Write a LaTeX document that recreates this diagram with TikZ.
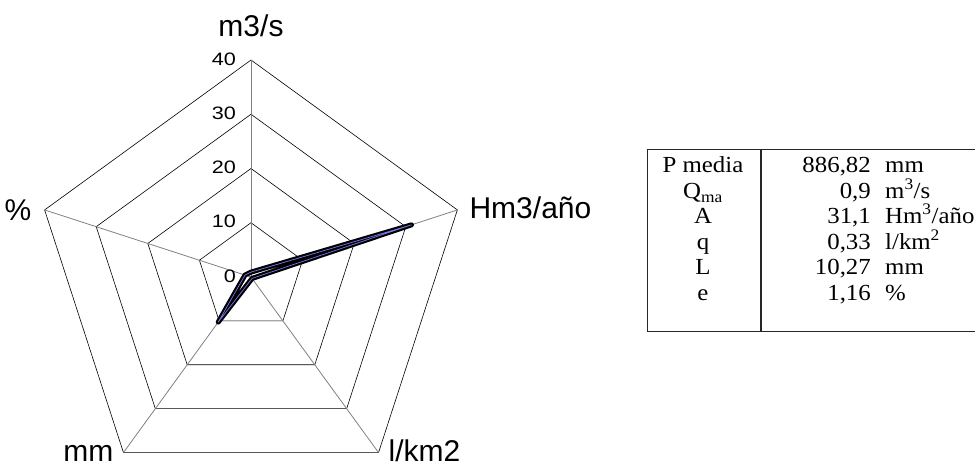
\documentclass[tikz,border=0pt]{standalone}
\usepackage{fontspec}
\setmainfont{Liberation Serif}[FakeStretch=1.08]
\newfontfamily\chartfont{Liberation Sans}
\newfontfamily\tickfont{Liberation Sans}[FakeStretch=1.2]
\usetikzlibrary{positioning}
\definecolor{seriesblue}{RGB}{120,120,235}
\tikzset{
    ring/.style={black,line width=0.6pt},
    spoke/.style={gray,line width=0.8pt},
    ticklabel/.style={anchor=east,inner sep=0pt,font=\tickfont\fontsize{18}{20}\selectfont},
    axislabel/.style={inner sep=0pt,font=\chartfont\fontsize{30}{34}\selectfont},
    cell/.style={inner sep=0pt,font=\fontsize{23}{26}\selectfont}
}

\begin{document}
\begin{tikzpicture}[x=1pt,y=1pt]
\useasboundingbox (-251,-189) rectangle (724,277);
\coordinate (O) at (0,0);
\coordinate (Qs) at (90:217);
\coordinate (Hm) at (18:217);
\coordinate (lkm) at (-54:217);
\coordinate (mm) at (234:217);
\coordinate (pc) at (162:217);
% rings at 10, 20, 30, 40
\draw[ring] (90:54.25) -- (18:54.25) -- (-54:54.25) -- (234:54.25) -- (162:54.25) -- cycle;
\draw[ring] (90:108.5) -- (18:108.5) -- (-54:108.5) -- (234:108.5) -- (162:108.5) -- cycle;
\draw[ring] (90:162.75) -- (18:162.75) -- (-54:162.75) -- (234:162.75) -- (162:162.75) -- cycle;
\draw[ring] (Qs) -- (Hm) -- (lkm) -- (mm) -- (pc) -- cycle;
\draw[spoke] (O) -- (Qs);
\draw[spoke] (O) -- (Hm);
\draw[spoke] (O) -- (lkm);
\draw[spoke] (O) -- (mm);
\draw[spoke] (O) -- (pc);
\node[ticklabel] (t0) at (-15,1) {0};
\node[ticklabel] (t10) at (-15,55.25) {10};
\node[ticklabel] (t20) at (-15,109.5) {20};
\node[ticklabel] (t30) at (-15,163.75) {30};
\node[ticklabel] (t40) at (-15,218) {40};
\node[axislabel,anchor=base] (lQs) at (0,240) {m3/s};
\node[axislabel,right=12pt of Hm,yshift=2pt] (lHm) {Hm3/año};
\node[axislabel,left=13pt of pc] (lpc) {\%};
\node[axislabel,anchor=base east] (lmm) at ([xshift=-10pt,yshift=-9pt]mm) {mm};
\node[axislabel,anchor=base west] (llkm) at ([xshift=10pt,yshift=-9pt]lkm) {l/km2};
% data series
\coordinate (dQs) at (90:{0.9*5.425});
\coordinate (dHm) at (18:{31.1*5.425});
\coordinate (dlkm) at (-54:{0.33*5.425});
\coordinate (dmm) at (234:{10.27*5.425});
\coordinate (dpc) at (162:{1.16*5.425});
\draw[line width=5pt,line join=round] (dQs) -- (dHm) -- (dlkm) -- (dmm) -- (dpc) -- cycle;
\draw[seriesblue,line width=0.7pt,line join=round] (dQs) -- (dHm) -- (dlkm) -- (dmm) -- (dpc) -- cycle;
% table
\begin{scope}
\clip (390,-62) rectangle (724,136);
\draw[black!85,line width=0.9pt] (396.7,128) rectangle (760,-54.7);
\draw[black!85,line width=2.4pt] (510,128) -- (510,-54.7);
\node[cell,anchor=base] (kP) at (452,104) {P media};
\node[cell,anchor=base east] (vP) at (620,104) {886,82};
\node[cell,anchor=base west] (uP) at (634,104) {mm};
\node[cell,anchor=base] (kQ) at (452,78.5) {Q\textsubscript{ma}};
\node[cell,anchor=base east] (vQ) at (620,78.5) {0,9};
\node[cell,anchor=base west] (uQ) at (634,78.5) {m\textsuperscript{3}/s};
\node[cell,anchor=base] (kA) at (452,53) {A};
\node[cell,anchor=base east] (vA) at (620,53) {31,1};
\node[cell,anchor=base west] (uA) at (634,53) {Hm\textsuperscript{3}/año};
\node[cell,anchor=base] (kq) at (452,27.5) {q};
\node[cell,anchor=base east] (vq) at (620,27.5) {0,33};
\node[cell,anchor=base west] (uq) at (634,27.5) {l/km\textsuperscript{2}};
\node[cell,anchor=base] (kL) at (452,2) {L};
\node[cell,anchor=base east] (vL) at (620,2) {10,27};
\node[cell,anchor=base west] (uL) at (634,2) {mm};
\node[cell,anchor=base] (ke) at (452,-23.5) {e};
\node[cell,anchor=base east] (ve) at (620,-23.5) {1,16};
\node[cell,anchor=base west] (ue) at (634,-23.5) {\%};
\end{scope}
\end{tikzpicture}
\end{document}
